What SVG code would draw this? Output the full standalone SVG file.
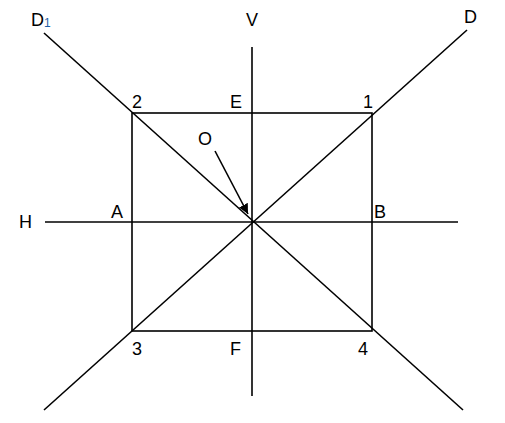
<svg xmlns="http://www.w3.org/2000/svg" width="505" height="423" viewBox="0 0 505 423">
<style>
.l{stroke:#000;stroke-width:1.6;fill:none}
text{font-family:"Liberation Sans",Arial,sans-serif;font-size:18px;fill:#000}
.sub{font-size:12px;fill:#1f5fa8}
</style>
<defs>
<marker id="ah" viewBox="0 0 10 10" refX="10" refY="5" markerWidth="10" markerHeight="10" markerUnits="userSpaceOnUse" orient="auto">
<path d="M0,0 L10,5 L0,10 z" fill="#000"/>
</marker>
</defs>
<rect width="505" height="423" fill="#fff"/>
<g id="connectors">
<rect class="l" x="132" y="113" width="240" height="218"/>
<line class="l" x1="252" y1="47" x2="252" y2="396"/>
<line class="l" x1="45" y1="222" x2="458" y2="222"/>
<line class="l" x1="44" y1="410" x2="467" y2="30"/>
<line class="l" x1="44" y1="33" x2="463" y2="410"/>
<line class="l" x1="215" y1="151" x2="248" y2="214" marker-end="url(#ah)"/>
</g>
<g id="labels">
<text x="31" y="26">D<tspan class="sub" dy="1">1</tspan></text>
<text x="246" y="26">V</text>
<text x="464" y="23">D</text>
<text x="132" y="108">2</text>
<text x="230" y="108">E</text>
<text x="363" y="108">1</text>
<text x="198" y="145">O</text>
<text x="111" y="218">A</text>
<text x="374" y="218">B</text>
<text x="19" y="228">H</text>
<text x="132" y="355">3</text>
<text x="230" y="355">F</text>
<text x="358" y="355">4</text>
</g>
</svg>
